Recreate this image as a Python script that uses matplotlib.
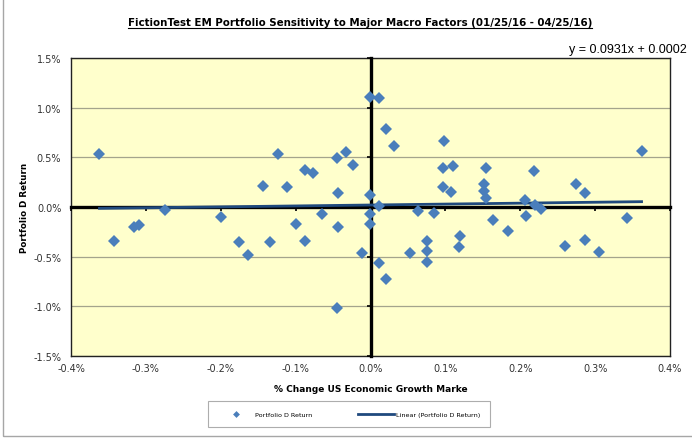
import matplotlib.pyplot as plt
from matplotlib.ticker import FuncFormatter
from matplotlib.patches import Rectangle
from matplotlib.lines import Line2D

# valores (en %)
x_change = [-0.362, -0.343, -0.316, -0.309, -0.275, -0.200, -0.175, -0.164, -0.143, -0.134,
            -0.123, -0.111, -0.099, -0.088, -0.088, -0.077, -0.065, -0.045, -0.033, -0.023,
            -0.044, -0.044, -0.045, -0.012, -0.001, -0.001, -0.001, -0.001, 0.011, 0.021,
            0.032, 0.011, 0.011, 0.021, 0.053, 0.064, 0.076, 0.076, 0.076, 0.085,
            0.098, 0.097, 0.097, 0.110, 0.108, 0.119, 0.118, 0.154, 0.151, 0.151,
            0.154, 0.163, 0.183, 0.207, 0.208, 0.219, 0.220, 0.228, 0.260, 0.274,
            0.287, 0.286, 0.305, 0.343, 0.362]
portfolio_d = [0.53, -0.34, -0.20, -0.18, -0.03, -0.10, -0.35, -0.48, 0.21, -0.35,
               0.53, 0.20, -0.17, 0.37, -0.34, 0.34, -0.07, 0.49, 0.55, 0.42,
               0.14, -0.20, -1.02, -0.46, 0.12, -0.07, -0.17, 1.11, 1.10, 0.79,
               0.61, 0.01, -0.56, -0.72, -0.46, -0.04, -0.34, -0.44, -0.55, -0.06,
               0.66, 0.39, 0.20, 0.41, 0.15, -0.29, -0.40, 0.39, 0.23, 0.16,
               0.09, -0.13, -0.24, 0.07, -0.09, 0.36, 0.02, -0.02, -0.39, 0.23,
               0.14, -0.33, -0.45, -0.11, 0.56]

slope = 0.0931
intercept = 0.0002

x_ticks = [-0.4, -0.3, -0.2, -0.1, 0.0, 0.1, 0.2, 0.3, 0.4]
y_ticks = [-1.5, -1.0, -0.5, 0.0, 0.5, 1.0, 1.5]

title = 'FictionTest EM Portfolio Sensitivity to Major Macro Factors (01/25/16 - 04/25/16)'
equation = 'y = 0.0931x + 0.0002'
x_label = '% Change US Economic Growth Marke'
y_label = 'Portfolio D Return'

W, H = 692, 439
fig = plt.figure(figsize=(W / 100, H / 100), dpi=100)
fig.patch.set_facecolor('white')

pos = [71 / W, 1 - 357 / H, (670 - 71) / W, (357 - 59) / H]

# ejes de fondo: marco y etiquetas en los bordes
ax_bg = fig.add_axes(pos)
ax_bg.set_facecolor('#FFFFCC')
ax_bg.set_xlim(x_ticks[0], x_ticks[-1])
ax_bg.set_ylim(y_ticks[0], y_ticks[-1])
ax_bg.set_xticks(x_ticks)
ax_bg.set_yticks(y_ticks)
pct = FuncFormatter(lambda v, p: '%.1f%%' % v)
ax_bg.xaxis.set_major_formatter(pct)
ax_bg.yaxis.set_major_formatter(pct)
ax_bg.tick_params(length=0, labelsize=7, colors='#333333', pad=5)
ax_bg.tick_params(axis='y', pad=7)
for s in ax_bg.spines.values():
    s.set_color('#222222')
    s.set_linewidth(1.0)
ax_bg.grid(axis='y', color='#A4A48C', linewidth=0.9)
ax_bg.set_axisbelow(True)
ax_bg.set_xlabel(x_label, fontsize=6.5, fontweight='bold', labelpad=8)
ax_bg.set_ylabel(y_label, fontsize=6.3, fontweight='bold', labelpad=3)

# ejes de datos con los ejes cruzando en cero
ax = fig.add_axes(pos, sharex=ax_bg, sharey=ax_bg)
ax.patch.set_visible(False)
for side in ['right', 'top']:
    ax.spines[side].set_visible(False)
for side in ['left', 'bottom']:
    ax.spines[side].set_position(('data', 0))
    ax.spines[side].set_linewidth(2.4)
    ax.spines[side].set_color('black')
ax.tick_params(direction='out', length=3, width=1.2, color='black',
               labelleft=False, labelbottom=False)

x_line = [min(x_change), max(x_change)]
y_line = [slope * v + intercept * 100 for v in x_line]
ax.plot(x_line, y_line, color='#1F497D', linewidth=2.0, zorder=3,
        label='Linear (Portfolio D Return)')
ax.plot(x_change, portfolio_d, linestyle='none', marker='D', markersize=5.8,
        color='#4A7EBB', markeredgewidth=0, zorder=4, label='Portfolio D Return')

# titulo subrayado
t = fig.text(360 / W, 1 - 26 / H, title, ha='center', va='baseline',
             fontsize=8.2, fontweight='bold', fontstretch='condensed',
             family=['DejaVu Sans Condensed', 'DejaVu Sans'])
fig.canvas.draw()
bb = t.get_window_extent().transformed(fig.transFigure.inverted())
fig.add_artist(Line2D([bb.x0, bb.x1], [1 - 28.5 / H] * 2, color='black', linewidth=0.8,
                      transform=fig.transFigure))

fig.text(687 / W, 1 - 53 / H, equation, ha='right', va='baseline', fontsize=9,
         family=['Liberation Sans', 'DejaVu Sans'])

handles, labels = ax.get_legend_handles_labels()
leg = fig.legend(handles[::-1], labels[::-1], loc='center', mode='expand',
                 bbox_to_anchor=(208 / W, 1 - 428 / H, 282 / W, 26 / H), ncol=2,
                 fontsize=4.6, frameon=True, fancybox=False, edgecolor='#999999',
                 handlelength=5.5, markerscale=0.6, borderpad=1.6,
                 handletextpad=0.3, borderaxespad=0)
leg.get_frame().set_linewidth(0.8)

# borde gris del area del grafico
fig.add_artist(Rectangle((3 / W, 2 / H), 1.0, 1.0, transform=fig.transFigure,
                         fill=False, edgecolor='#A6A6A6', linewidth=1.0, clip_on=False))

fig.savefig('out.png', dpi=100)
